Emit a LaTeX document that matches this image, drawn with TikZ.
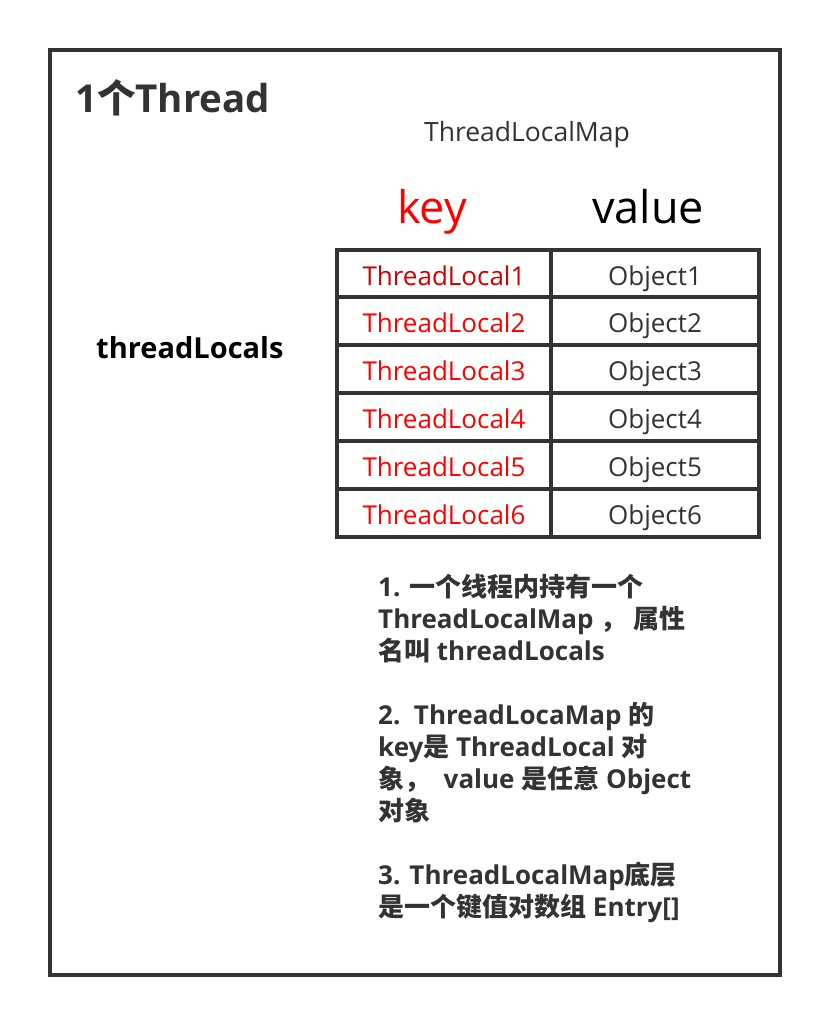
\documentclass[tikz,border=0pt]{standalone}
\usepackage{fontspec}
\setmainfont{Open Sans}
\newfontfamily\cjk{Noto Sans CJK SC}
\definecolor{dk}{HTML}{333333}
\definecolor{rd}{HTML}{FF0000}
\definecolor{rd1}{HTML}{D00000}
\newcommand{\zh}[1]{{\cjk #1}}
\tikzset{
  frame/.style={draw=dk, line width=4pt},
  grid/.style={draw=dk, line width=4pt},
  keytxt/.style={text=rd, font=\fontsize{26}{30}\selectfont, anchor=base, inner sep=0pt},
  valtxt/.style={text=dk, font=\fontsize{26}{30}\selectfont, anchor=base, inner sep=0pt},
  note/.style={text=dk, font=\fontsize{26}{30}\selectfont\bfseries, anchor=base west, inner sep=0pt},
}
\begin{document}
\begin{tikzpicture}[x=1pt,y=-1pt]
\useasboundingbox (0,0) rectangle (830,1026);
\fill[white] (0,0) rectangle (830,1026);
% outer frame
\draw[frame] (50,50) rectangle (780,975);
% title
\node[anchor=base west, inner sep=0pt, text=dk, font=\fontsize{38.5}{40}\selectfont\bfseries] (title) at (75,112) {1\zh{个}Thread};
\node[anchor=base, inner sep=0pt, text=dk, font=\fontsize{26.5}{30}\selectfont] (maplbl) at (527,141) {ThreadLocalMap};
\node[anchor=base, inner sep=0pt, text=rd, font=\fontsize{45}{50}\selectfont] (keyhd) at (432,223) {key};
\node[anchor=base, inner sep=0pt, text=black, font=\fontsize{45}{50}\selectfont] (valhd) at (648,223) {value};
\node[anchor=base west, inner sep=0pt, text=black, font=\fontsize{29}{30}\selectfont\bfseries] (tls) at (96,358) {threadLocals};
% table
\draw[grid] (337,249.5) rectangle (759,536.5);
\draw[grid] (551,249.5) -- (551,536.5);
\foreach \i in {1,...,5} {
  \draw[grid] (337,{249.5+47.83*\i}) -- (759,{249.5+47.83*\i});
}
\node[keytxt, text=rd1] (k1) at (444,285) {ThreadLocal1};
\foreach \i in {2,...,6} {
  \node[keytxt] (k\i) at (444,{285+47.83*(\i-1)}) {ThreadLocal\i};
}
\foreach \i in {1,...,6} {
  \node[valtxt] (v\i) at (655,{285+47.83*(\i-1)}) {Object\i};
}
% notes
\node[note] (n1a) at (378,596) {1. \zh{一个线程内持有一个}};
\node[note] (n1b) at (378,628) {ThreadLocalMap \zh{，}\ \zh{属性}};
\node[note] (n1c) at (378,660) {\zh{名叫} threadLocals};
\node[note] (n2a) at (378,724) {2.\ \ ThreadLocaMap \zh{的}};
\node[note] (n2b) at (378,756) {key\zh{是} ThreadLocal \zh{对}};
\node[note] (n2c) at (378,788) {\zh{象，}\ \ value \zh{是任意} Object};
\node[note] (n2d) at (378,820) {\zh{对象}};
\node[note] (n3a) at (378,884) {3. ThreadLocalMap\zh{底层}};
\node[note] (n3b) at (378,916) {\zh{是一个键值对数组} Entry[]};
\end{tikzpicture}
\end{document}
